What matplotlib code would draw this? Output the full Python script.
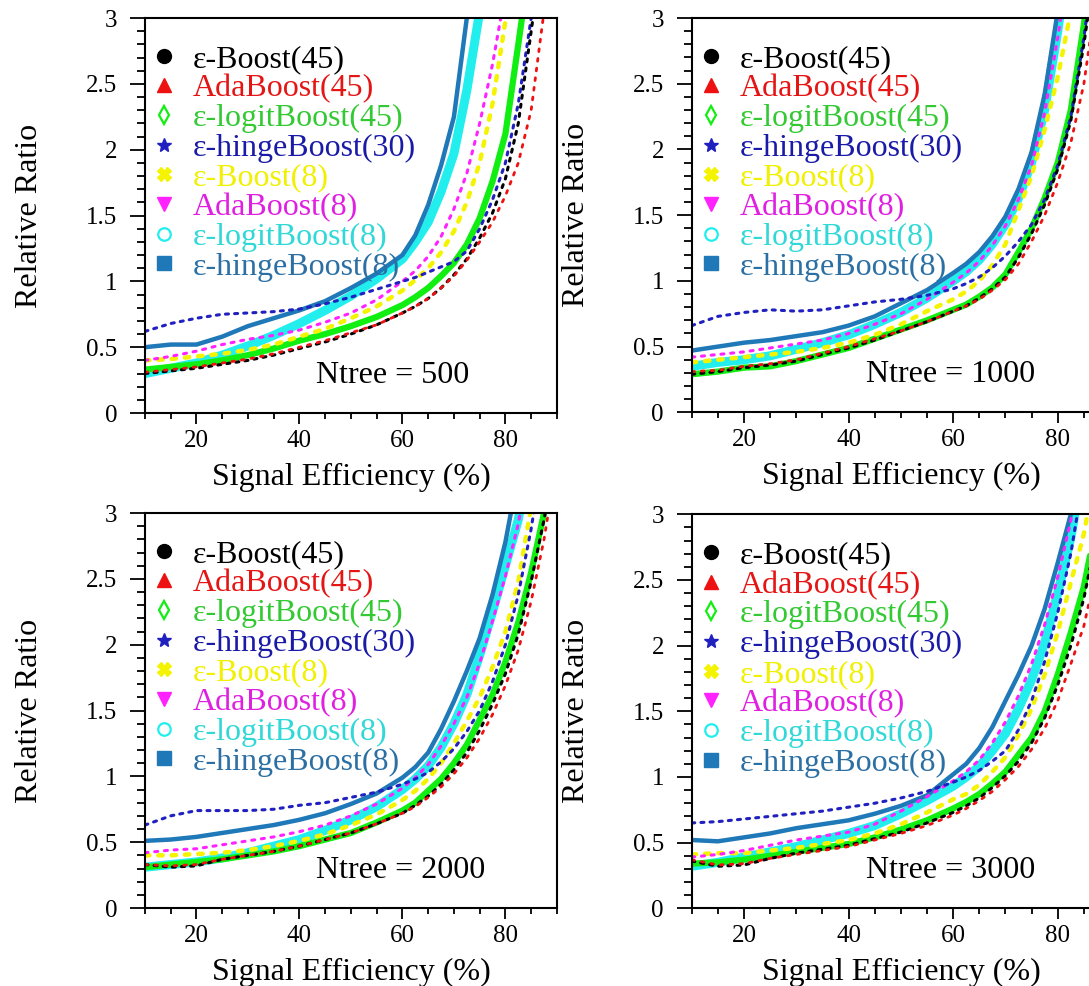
import matplotlib
matplotlib.use('Agg')
import matplotlib.pyplot as plt
from matplotlib.lines import Line2D
from matplotlib.ticker import MultipleLocator

eff = [10, 15, 20, 25, 30, 35, 40, 45, 50, 55, 60, 62.5, 65, 67.5, 70, 72.5, 75, 77.5, 80, 82.5, 85, 87.5, 90]

labels = [u"\u03b5-Boost(45)", "AdaBoost(45)", u"\u03b5-logitBoost(45)", u"\u03b5-hingeBoost(30)",
          u"\u03b5-Boost(8)", "AdaBoost(8)", u"\u03b5-logitBoost(8)", u"\u03b5-hingeBoost(8)"]
ntrees = [500, 1000, 2000, 3000]

# Ntree = 500
n500_eps45 = [0.30, 0.32, 0.34, 0.37, 0.40, 0.44, 0.49, 0.54, 0.60, 0.67, 0.76, 0.81, 0.87, 0.95, 1.05, 1.17, 1.33, 1.52, 1.78, 2.20, 2.90, 3.60]
n500_ada45 = [0.31, 0.33, 0.35, 0.38, 0.41, 0.45, 0.50, 0.55, 0.61, 0.67, 0.76, 0.81, 0.87, 0.95, 1.04, 1.16, 1.30, 1.45, 1.65, 1.90, 2.30, 3.05, 3.80]
n500_logit45 = [0.33, 0.35, 0.37, 0.40, 0.44, 0.49, 0.55, 0.60, 0.66, 0.73, 0.82, 0.88, 0.95, 1.04, 1.14, 1.28, 1.48, 1.76, 2.12, 2.80, 3.50]
n500_hinge30 = [0.62, 0.68, 0.72, 0.75, 0.76, 0.77, 0.79, 0.83, 0.88, 0.94, 1.00, 1.03, 1.07, 1.11, 1.15, 1.23, 1.40, 1.62, 1.90, 2.35, 3.00, 3.80]
n500_eps8 = [0.40, 0.41, 0.43, 0.45, 0.48, 0.52, 0.58, 0.64, 0.72, 0.81, 0.93, 1.01, 1.10, 1.22, 1.38, 1.60, 1.90, 2.35, 2.98, 3.80]
n500_ada8 = [0.40, 0.43, 0.47, 0.52, 0.56, 0.59, 0.63, 0.69, 0.76, 0.86, 1.00, 1.08, 1.19, 1.34, 1.55, 1.82, 2.20, 2.65, 3.20]
n500_logit8 = [0.30, 0.34, 0.38, 0.44, 0.51, 0.59, 0.68, 0.78, 0.89, 1.02, 1.17, 1.30, 1.45, 1.68, 1.97, 2.45, 3.05, 3.80]
n500_hinge8 = [0.50, 0.52, 0.52, 0.58, 0.66, 0.72, 0.78, 0.85, 0.95, 1.06, 1.20, 1.35, 1.58, 1.88, 2.25, 3.00, 3.80]

# Ntree = 1000
n1000_eps45 = [0.29, 0.31, 0.34, 0.36, 0.39, 0.44, 0.49, 0.55, 0.62, 0.69, 0.77, 0.81, 0.87, 0.94, 1.03, 1.18, 1.36, 1.58, 1.85, 2.22, 2.80, 3.50]
n1000_ada45 = [0.31, 0.32, 0.35, 0.37, 0.40, 0.45, 0.50, 0.56, 0.62, 0.69, 0.77, 0.81, 0.86, 0.93, 1.01, 1.13, 1.30, 1.50, 1.75, 2.05, 2.50, 3.20]
n1000_logit45 = [0.29, 0.31, 0.34, 0.35, 0.39, 0.44, 0.49, 0.56, 0.63, 0.70, 0.78, 0.82, 0.88, 0.95, 1.05, 1.22, 1.40, 1.63, 1.90, 2.30, 2.95, 3.70]
n1000_hinge30 = [0.66, 0.73, 0.76, 0.78, 0.77, 0.78, 0.81, 0.84, 0.86, 0.89, 0.94, 0.98, 1.03, 1.10, 1.19, 1.30, 1.43, 1.62, 1.88, 2.25, 2.85, 3.60]
n1000_eps8 = [0.38, 0.40, 0.42, 0.44, 0.46, 0.49, 0.53, 0.59, 0.67, 0.77, 0.86, 0.92, 1.00, 1.12, 1.28, 1.54, 1.80, 2.15, 2.55, 3.05]
n1000_ada8 = [0.42, 0.44, 0.46, 0.49, 0.52, 0.55, 0.60, 0.67, 0.75, 0.86, 0.99, 1.06, 1.15, 1.27, 1.42, 1.62, 1.88, 2.28, 2.85, 3.50]
n1000_logit8 = [0.35, 0.38, 0.40, 0.43, 0.48, 0.53, 0.59, 0.67, 0.76, 0.87, 1.00, 1.07, 1.16, 1.28, 1.43, 1.63, 1.90, 2.30, 2.90, 3.60]
n1000_hinge8 = [0.47, 0.50, 0.53, 0.55, 0.58, 0.61, 0.66, 0.73, 0.83, 0.93, 1.06, 1.13, 1.22, 1.34, 1.49, 1.70, 1.98, 2.42, 3.05]

# Ntree = 2000
n2000_eps45 = [0.33, 0.31, 0.32, 0.37, 0.40, 0.43, 0.47, 0.52, 0.57, 0.64, 0.72, 0.78, 0.85, 0.94, 1.05, 1.18, 1.35, 1.55, 1.78, 2.08, 2.48, 2.95, 3.50]
n2000_ada45 = [0.33, 0.32, 0.33, 0.37, 0.40, 0.43, 0.47, 0.52, 0.57, 0.64, 0.72, 0.77, 0.84, 0.92, 1.02, 1.14, 1.29, 1.47, 1.69, 1.96, 2.33, 2.80, 3.40]
n2000_logit45 = [0.31, 0.33, 0.35, 0.37, 0.40, 0.43, 0.47, 0.52, 0.57, 0.65, 0.74, 0.80, 0.89, 0.98, 1.10, 1.24, 1.43, 1.62, 1.87, 2.17, 2.55, 3.00, 3.60]
n2000_hinge30 = [0.63, 0.70, 0.74, 0.74, 0.74, 0.75, 0.78, 0.80, 0.84, 0.88, 0.94, 0.98, 1.03, 1.11, 1.21, 1.34, 1.50, 1.72, 2.00, 2.38, 2.88, 3.50]
n2000_eps8 = [0.40, 0.40, 0.41, 0.42, 0.44, 0.47, 0.51, 0.56, 0.63, 0.71, 0.82, 0.89, 0.98, 1.10, 1.25, 1.42, 1.60, 1.83, 2.10, 2.48, 3.05]
n2000_ada8 = [0.42, 0.44, 0.45, 0.48, 0.51, 0.54, 0.58, 0.63, 0.70, 0.79, 0.91, 0.99, 1.09, 1.23, 1.40, 1.60, 1.86, 2.18, 2.52, 2.92, 3.50]
n2000_logit8 = [0.31, 0.33, 0.35, 0.38, 0.42, 0.47, 0.52, 0.59, 0.67, 0.77, 0.90, 0.98, 1.08, 1.22, 1.40, 1.62, 1.92, 2.25, 2.60, 2.95, 3.50]
n2000_hinge8 = [0.51, 0.52, 0.54, 0.57, 0.60, 0.63, 0.67, 0.72, 0.79, 0.87, 0.99, 1.07, 1.18, 1.36, 1.57, 1.80, 2.05, 2.38, 2.78, 3.30]

# Ntree = 3000
n3000_eps45 = [0.36, 0.32, 0.33, 0.38, 0.42, 0.45, 0.48, 0.53, 0.58, 0.65, 0.73, 0.78, 0.84, 0.92, 1.01, 1.12, 1.26, 1.45, 1.70, 2.00, 2.36, 2.85, 3.40]
n3000_ada45 = [0.37, 0.33, 0.34, 0.38, 0.41, 0.44, 0.47, 0.52, 0.57, 0.63, 0.71, 0.76, 0.82, 0.89, 0.98, 1.08, 1.21, 1.37, 1.58, 1.86, 2.15, 2.60, 3.20]
n3000_logit45 = [0.34, 0.35, 0.37, 0.40, 0.43, 0.46, 0.49, 0.54, 0.60, 0.67, 0.76, 0.81, 0.87, 0.95, 1.04, 1.17, 1.30, 1.50, 1.78, 2.10, 2.45, 2.95, 3.50]
n3000_hinge30 = [0.65, 0.66, 0.68, 0.70, 0.72, 0.74, 0.77, 0.80, 0.84, 0.89, 0.96, 1.00, 1.05, 1.12, 1.20, 1.36, 1.58, 1.88, 2.25, 2.70, 3.30]
n3000_eps8 = [0.41, 0.42, 0.42, 0.44, 0.46, 0.49, 0.52, 0.57, 0.64, 0.73, 0.83, 0.87, 0.94, 1.04, 1.15, 1.32, 1.52, 1.78, 2.10, 2.48, 2.85, 3.40]
n3000_ada8 = [0.39, 0.41, 0.44, 0.48, 0.52, 0.55, 0.58, 0.64, 0.74, 0.85, 0.97, 1.04, 1.13, 1.26, 1.42, 1.62, 1.86, 2.16, 2.52, 2.95, 3.50]
n3000_logit8 = [0.32, 0.35, 0.39, 0.43, 0.47, 0.52, 0.57, 0.63, 0.72, 0.82, 0.93, 1.00, 1.08, 1.20, 1.33, 1.52, 1.74, 2.02, 2.40, 2.82, 3.40]
n3000_hinge8 = [0.52, 0.51, 0.54, 0.57, 0.61, 0.64, 0.67, 0.72, 0.78, 0.86, 1.02, 1.10, 1.22, 1.38, 1.58, 1.78, 2.00, 2.28, 2.63, 3.00, 3.60]

panels = [
    [n500_eps45, n500_ada45, n500_logit45, n500_hinge30, n500_eps8, n500_ada8, n500_logit8, n500_hinge8],
    [n1000_eps45, n1000_ada45, n1000_logit45, n1000_hinge30, n1000_eps8, n1000_ada8, n1000_logit8, n1000_hinge8],
    [n2000_eps45, n2000_ada45, n2000_logit45, n2000_hinge30, n2000_eps8, n2000_ada8, n2000_logit8, n2000_hinge8],
    [n3000_eps45, n3000_ada45, n3000_logit45, n3000_hinge30, n3000_eps8, n3000_ada8, n3000_logit8, n3000_hinge8],
]

# styles
line_colors = ['black', '#ee1111', '#11ee11', '#2020c0', '#f4f400', '#ff22ff', '#22eeee', '#1f78b8']
text_colors = ['black', '#e51515', '#33c933', '#1a1aa8', '#f0f000', '#e020e0', '#30d8d8', '#2b6fa3']
markers = ['o', '^', 'd', '*', 'X', 'v', 'o', 's']
filled = [True, True, False, True, True, True, False, True]
line_styles = [(0, (1, 2)), (0, (1, 2.5)), '-', (0, (1, 2)), (0, (1, 2)), (0, (1, 2.2)), '-', '-']
line_widths = [2.2, 2.0, 4.5, 2.2, 3.2, 2.2, 6.5, 3.2]
draw_order = [6, 2, 7, 4, 5, 3, 0, 1]

# axes positions in figure fraction (right column runs off the page)
positions = [
    [0.1331, 0.5811, 0.3783, 0.4006],
    [0.6352, 0.5818, 0.3841, 0.3999],
    [0.1331, 0.0791, 0.3783, 0.4006],
    [0.6352, 0.0788, 0.3841, 0.3996],
]

plt.rcParams['font.family'] = ['Liberation Serif', 'DejaVu Serif']

fig = plt.figure(figsize=(10.89, 9.86), dpi=100)

for k in range(4):
    ax = fig.add_axes(positions[k])
    curves = panels[k]
    for i in draw_order:
        y = curves[i]
        ax.plot(eff[:len(y)], y, color=line_colors[i], linestyle=line_styles[i],
                linewidth=line_widths[i], dash_capstyle='round', solid_capstyle='round')

    ax.set_xlim(10, 90)
    ax.set_ylim(0, 3)
    ax.xaxis.set_major_locator(MultipleLocator(20))
    ax.xaxis.set_minor_locator(MultipleLocator(5))
    ax.yaxis.set_minor_locator(MultipleLocator(0.1))
    ax.set_yticks([0, 0.5, 1, 1.5, 2, 2.5, 3])
    ax.set_yticklabels(['0', '0.5', '1', '1.5', '2', '2.5', '3'])
    ax.tick_params(axis='x', which='major', direction='out', length=8, width=1.3, pad=4, labelsize=18)
    ax.tick_params(axis='x', which='minor', direction='out', length=4.5, width=1.3)
    ax.tick_params(axis='y', which='major', direction='out', length=11, width=1.3, pad=9, labelsize=18)
    ax.tick_params(axis='y', which='minor', direction='out', length=5.5, width=1.3)
    for sp in ax.spines.values():
        sp.set_linewidth(1.5)

    ax.set_xlabel("Signal Efficiency (%)", fontsize=23, labelpad=8)
    ax.set_ylabel("Relative Ratio", fontsize=23, labelpad=30)

    ax.text(0.416, 0.076, "Ntree = " + str(ntrees[k]), transform=ax.transAxes,
            fontsize=23, ha='left', va='baseline')

    handles = []
    for i in range(8):
        if filled[i]:
            h = Line2D([], [], linestyle='none', marker=markers[i], color=line_colors[i],
                       markersize=10)
        else:
            h = Line2D([], [], linestyle='none', marker=markers[i], markerfacecolor='none',
                       markeredgecolor=line_colors[i], markeredgewidth=1.6, markersize=9)
        handles.append(h)
    leg = ax.legend(handles, labels, loc='upper left', bbox_to_anchor=(0.012, 0.933),
                    frameon=False, fontsize=23, labelspacing=0.01, handlelength=0.9,
                    handletextpad=0.45, borderpad=0, borderaxespad=0)
    for t, c in zip(leg.get_texts(), text_colors):
        t.set_color(c)

plt.savefig('out.png', dpi=100)
plt.close()
